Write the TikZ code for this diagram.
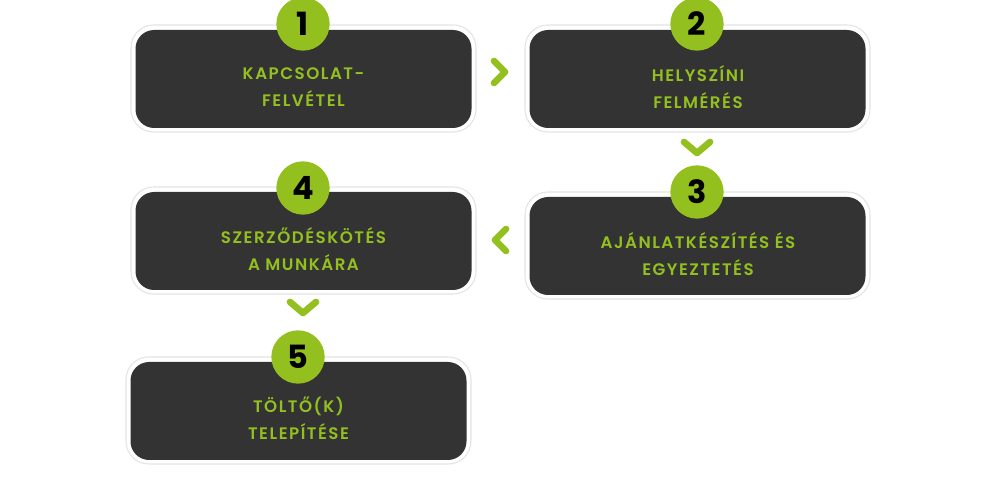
\documentclass[tikz,border=0pt]{standalone}
\usepackage{fontspec}
\setmainfont{Poppins}
\newfontfamily\lab[LetterSpace=9]{Poppins SemiBold}
\definecolor{grn}{HTML}{93C01F}
\definecolor{drk}{HTML}{333333}
\definecolor{edg}{HTML}{E4E4E4}
\begin{document}
\begin{tikzpicture}[x=0.75pt,y=-0.75pt,
  outerbox/.style={draw=edg,line width=0.8pt,fill=white,rounded corners=17pt},
  innerbox/.style={fill=drk,rounded corners=14pt},
  numc/.style={circle,fill=grn,minimum size=40pt,inner sep=0pt,font=\bfseries\fontsize{24}{24}\selectfont,text=black},
  txt/.style={align=center,text=grn,font=\lab\fontsize{12.5}{20}\selectfont},
  chev/.style={draw=grn,line width=5pt,line cap=round,line join=round}]
\useasboundingbox[fill=white] (0,0) rectangle (1000,491);
\foreach \n/\x/\y in {b1/131/25,b2/525/25,b3/525/192,b4/131/187,b5/126/357}{
  \draw[outerbox] (\x,\y) rectangle ++(345,107);
  \fill[innerbox] (\x+4.5,\y+5) rectangle ++(336,98);
}
\node[txt] (t1) at (303.5,87) {KAPCSOLAT-\\FELVÉTEL};
\node[txt] (t2) at (698,87) {HELYSZÍNI\\ FELMÉRÉS};
\node[txt] (t3) at (698,254) {AJÁNLATKÉSZÍTÉS ÉS\\EGYEZTETÉS};
\node[txt] (t4) at (303.5,249) {SZERZŐDÉSKÖTÉS\\A MUNKÁRA};
\node[txt] (t5) at (298.5,418) {TÖLTŐ(K)\\TELEPÍTÉSE};
\node[numc] (n1) at (303,24) {1};
\node[numc] (n2) at (697,24) {2};
\node[numc] (n3) at (697,192) {3};
\node[numc] (n4) at (303,188) {4};
\node[numc] (n5) at (298,357) {5};
\coordinate (c1) at (500,72);
\draw[chev] ([shift={(-6,-11)}]c1) -- ([shift={(5,0)}]c1) -- ([shift={(-6,11)}]c1);
\coordinate (c2) at (697,148);
\draw[chev] ([shift={(-13,-6)}]c2) -- ([shift={(0,5)}]c2) -- ([shift={(13,-6)}]c2);
\coordinate (c3) at (500,240);
\draw[chev] ([shift={(6,-11)}]c3) -- ([shift={(-5,0)}]c3) -- ([shift={(6,11)}]c3);
\coordinate (c4) at (303,308);
\draw[chev] ([shift={(-13,-6)}]c4) -- ([shift={(0,5)}]c4) -- ([shift={(13,-6)}]c4);
\end{tikzpicture}
\end{document}
